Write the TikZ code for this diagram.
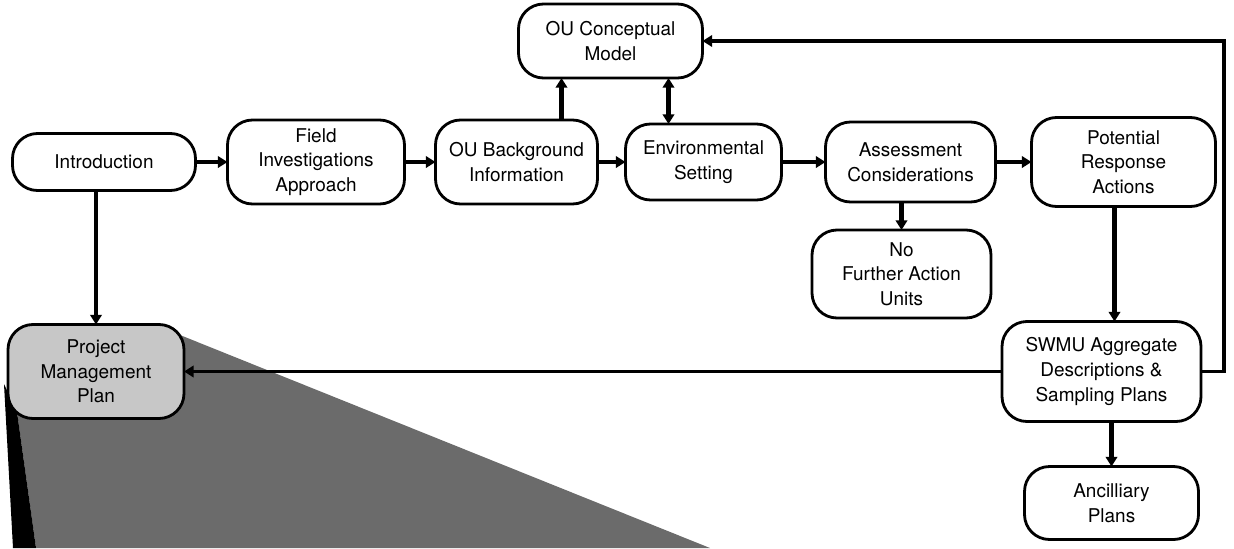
\documentclass[tikz,border=0pt]{standalone}
\usepackage{fontspec}
\setmainfont{TeX Gyre Heros}
\usetikzlibrary{positioning,arrows.meta}

\begin{document}
\begin{tikzpicture}
    [ > = {Triangle[length=5.5pt,width=6.5pt]}
    , box/.style =
      { draw, rounded corners=.5cm, line width=1.6pt, align=center
      , inner sep=0pt, outer sep=0pt, font=\fontsize{10.8}{14}\selectfont }
    , boxsize/.style 2 args =
      { minimum width=#1, minimum height=#2 }
    , link/.style =
      { line width=2.5pt, -> }
    , fan/.style =
      { fill=black!58 }
    , shaded/.style =
      { fill=black!22 }
    ]
    \useasboundingbox (0,0) rectangle (24.68,-10.96);

    % the fan spreading out below the management plan
    \fill [fan] (3.5,-6.66) -- (14.2,-10.96) -- (.72,-10.96) -- (.34,-8.24) -- cycle;
    \fill (.08,-7.68) -- (.34,-8.24) -- (.72,-10.96) -- (.26,-10.96) -- cycle;

    \node [box,boxsize={3.66cm}{1.14cm}] (intro) at (2.08,-3.24) {Introduction};
    \node [box,boxsize={3.54cm}{1.68cm}] (field) [right=.64cm of intro] {Field\\Investigations\\Approach};
    \node [box,boxsize={3.24cm}{1.68cm}] (oubg) [right=.62cm of field] {OU Background\\Information};
    \node [box,boxsize={3.12cm}{1.52cm}] (env) [right=.56cm of oubg] {Environmental\\Setting};
    \node [box,boxsize={3.4cm}{1.6cm}] (assess) [right=.88cm of env] {Assessment\\Considerations};
    \node [box,boxsize={3.68cm}{1.78cm}] (potential) [right=.72cm of assess] {Potential\\Response\\Actions};
    \node [box,boxsize={3.68cm}{1.48cm}] (concept) [above=.84cm of oubg, xshift=1.88cm] {OU Conceptual\\Model};
    \node [box,boxsize={3.58cm}{1.76cm}] (nfa) [below=.56cm of assess, xshift=-.18cm] {No\\Further Action\\Units};
    \node [box,boxsize={3.98cm}{2cm}] (swmu) [below=2.3cm of potential, xshift=-.44cm] {SWMU Aggregate\\Descriptions \&\\Sampling Plans};
    \node [box,boxsize={3.48cm}{1.46cm}] (ancil) [below=.9cm of swmu, xshift=.2cm] {Ancilliary\\Plans};
    \node [box,shaded,boxsize={3.52cm}{1.88cm}] (pmp) [below=2.68cm of intro, xshift=-.16cm] {Project\\Management\\Plan};

    \draw [link] (intro) -- (field);
    \draw [link] (field) -- (oubg);
    \draw [link] (oubg) -- (env);
    \draw [link] (env) -- (assess);
    \draw [link] (assess) -- (potential);
    \draw [link] ([xshift=.9cm]oubg.north) -- ([xshift=.9cm]oubg.north |- concept.south);
    \draw [link,<->] ([xshift=-.7cm]env.north) -- ([xshift=-.7cm]env.north |- concept.south);
    \draw [link] (nfa.north |- assess.south) -- (nfa.north);
    \draw [link] ([xshift=.26cm]swmu.north |- potential.south) -- ([xshift=.26cm]swmu.north);
    \draw [link] (ancil.north |- swmu.south) -- (ancil.north);
    \draw [link] (pmp.north |- intro.south) -- (pmp.north);
    \draw [link,line width=2pt] (swmu.west) -- (swmu.west -| pmp.east);
    \draw [link,line width=2pt] (swmu.east) -- ++(.46,0) |- (concept.east);
  \end{tikzpicture}
\end{document}
